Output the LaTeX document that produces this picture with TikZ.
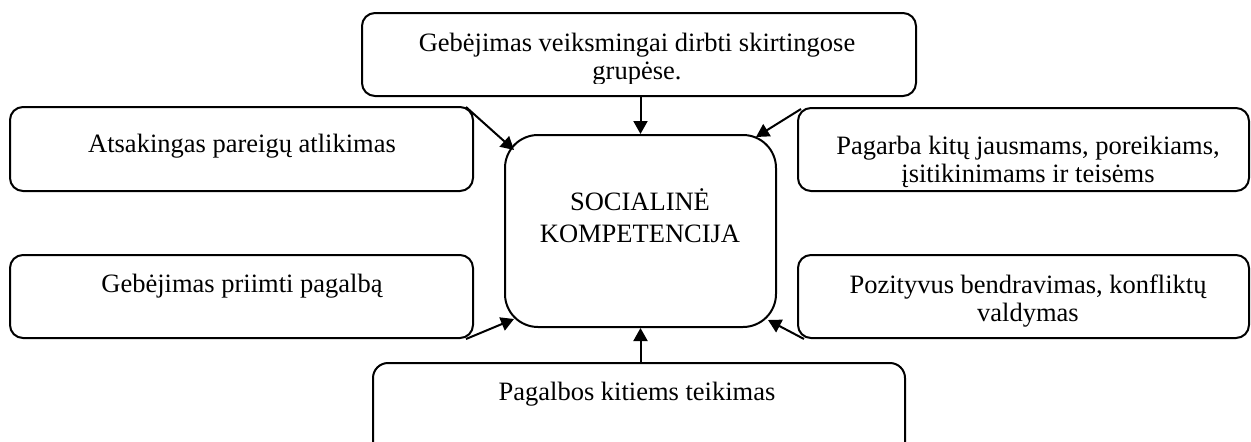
\documentclass[tikz,border=0pt]{standalone}
\usepackage{fontspec}
\setmainfont{Liberation Serif}
\usetikzlibrary{arrows.meta,calc}
\begin{document}
\begin{tikzpicture}[x=1pt,y=-1pt,
  box/.style={draw, line width=2pt, rounded corners=13pt, inner sep=0pt},
  txt/.style={font=\fontsize{26.5}{28}\selectfont, align=center, inner sep=0pt, anchor=base},
  arr/.style={line width=2pt, -{Triangle[length=13pt,width=14pt]}}]
\useasboundingbox (0,0) rectangle (1251,442);
\clip (0,0) rectangle (1251,442);
% boxes
\node[box, minimum width=554pt, minimum height=83pt] (top) at (639,54.5) {};
\node[box, minimum width=463pt, minimum height=84pt] (l1) at (241.5,149) {};
\node[box, minimum width=463pt, minimum height=83pt] (l2) at (241.5,296.5) {};
\node[box, minimum width=451pt, minimum height=83pt] (r1) at (1023.5,149.5) {};
\node[box, minimum width=451pt, minimum height=83pt] (r2) at (1023.5,296.5) {};
\node[box, minimum width=532pt, minimum height=107pt, rounded corners=15pt] (bot) at (639,416.5) {};
\node[box, minimum width=271pt, minimum height=192pt, rounded corners=33pt] (c) at (640.5,231) {};
% texts
\begin{scope}
\clip (366,13) rectangle (912,83);
\node[txt] (ttop) at (637,79) {Gebėjimas veiksmingai dirbti skirtingose\\grupėse.};
\end{scope}
\node[txt] (tl1) at (242,152) {Atsakingas pareigų atlikimas};
\node[txt] (tl2) at (242,292) {Gebėjimas priimti pagalbą};
\node[txt] (tr1) at (1028,182) {Pagarba kitų jausmams, poreikiams,\\įsitikinimams ir teisėms};
\node[txt] (tr2) at (1028,321) {Pozityvus bendravimas, konfliktų\\valdymas};
\node[txt] (tbot) at (637,400) {Pagalbos kitiems teikimas};
\node[txt, font=\fontsize{26.5}{32}\selectfont] (tc) at (640,242) {SOCIALINĖ\\KOMPETENCIJA};
% arrows
\draw[arr] (top.south -| c.north) -- (c.north);
\draw[arr] (bot.north -| c.south) -- (c.south);
\draw[arr] ($(l1.north east)+(-8,1)$) -- ($(c.north west)+(10,16)$);
\draw[arr] ($(l2.south east)+(-8,0)$) -- ($(c.south west)+(10,-9)$);
\draw[arr] ($(r1.north west)+(4,2)$) -- ($(c.north east)+(-21,3)$);
\draw[arr] ($(r2.south west)+(7,0)$) -- ($(c.south east)+(-9,-8)$);
\end{tikzpicture}
\end{document}
